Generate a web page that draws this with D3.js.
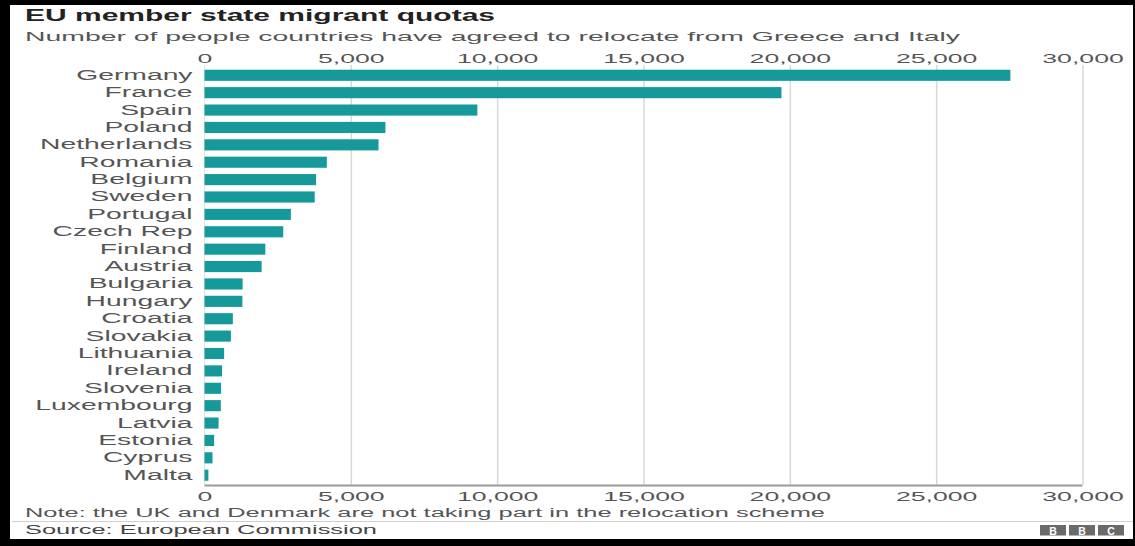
<!DOCTYPE html>
<html>
<head>
<meta charset="utf-8">
<script src="https://cdn.jsdelivr.net/npm/d3@7/dist/d3.min.js"></script>
<style>
  html, body { margin: 0; padding: 0; background: #fff; }
  svg { display: block; }
  text { font-family: "Liberation Sans", Arial, Helvetica, sans-serif; }
</style>
</head>
<body>
<svg id="chart" width="1135" height="546"></svg>
<script>
const countries = ["Germany","France","Spain","Poland","Netherlands","Romania","Belgium","Sweden","Portugal","Czech Rep","Finland","Austria","Bulgaria","Hungary","Croatia","Slovakia","Lithuania","Ireland","Slovenia","Luxembourg","Latvia","Estonia","Cyprus","Malta"];
const quotas = [27536,19714,9323,6182,5947,4180,3812,3766,2951,2691,2078,1953,1302,1294,968,902,671,600,567,557,481,329,274,133];
const tickValues = [0,5000,10000,15000,20000,25000,30000];
const titleText = "EU member state migrant quotas";
const subtitleText = "Number of people countries have agreed to relocate from Greece and Italy";
const noteText = "Note: the UK and Denmark are not taking part in the relocation scheme";
const sourceText = "Source: European Commission";
const logoLetters = ["B","B","C"];

const svg = d3.select("#chart");
const W = 1135, H = 546;

// stretch helper: widen text horizontally by factor k or to a fixed width
function stretch(sel, k, fixed) {
  sel.each(function() {
    const n = this.getComputedTextLength();
    const t = fixed != null ? fixed : n * k;
    d3.select(this).attr("textLength", t).attr("lengthAdjust", "spacingAndGlyphs");
  });
}

// background + black frame
svg.append("rect").attr("width", W).attr("height", H).attr("fill", "#000");
svg.append("rect").attr("x", 10).attr("y", 5).attr("width", 1123).attr("height", 534).attr("fill", "#fff");

const x = d3.scaleLinear().domain([0, 30000]).range([204.5, 1082.5]);
const y = d3.scaleBand().domain(countries).range([64.5, 486]).paddingInner(0.36).paddingOuter(0.3);

// gridlines
const grid = svg.append("g").attr("transform", "translate(0,485)")
  .call(d3.axisBottom(x).tickValues(tickValues.slice(1)).tickSize(-420).tickFormat(""));
grid.select(".domain").remove();
grid.selectAll("line").attr("stroke", "#d8d8d8").attr("stroke-width", 1.5);

// zero line
svg.append("line").attr("x1", x(0)).attr("x2", x(0)).attr("y1", 65).attr("y2", 485)
  .attr("stroke", "#dfe6e6").attr("stroke-width", 1.2);

// bars
svg.append("g").selectAll("rect").data(countries).join("rect")
  .attr("x", x(0))
  .attr("y", d => y(d))
  .attr("width", (d, i) => x(quotas[i]) - x(0))
  .attr("height", y.bandwidth())
  .attr("fill", "#16999a");

// bottom baseline
svg.append("line").attr("x1", x(0)).attr("x2", x(30000)).attr("y1", 485.5).attr("y2", 485.5)
  .attr("stroke", "#9a9a9a").attr("stroke-width", 2);

// top axis labels
const topAx = svg.append("g").attr("transform", "translate(0,63)")
  .call(d3.axisTop(x).tickValues(tickValues).tickSize(0).tickPadding(0).tickFormat(d3.format(",")));
topAx.select(".domain").remove();
topAx.selectAll("text").attr("font-size", 13).attr("fill", "#555").attr("dy", 0)
  .attr("font-family", "Liberation Sans, Arial, sans-serif");
stretch(topAx.selectAll("text"), 2.05);

// bottom axis labels
const botAx = svg.append("g").attr("transform", "translate(0,500.5)")
  .call(d3.axisTop(x).tickValues(tickValues).tickSize(0).tickPadding(0).tickFormat(d3.format(",")));
botAx.select(".domain").remove();
botAx.selectAll("text").attr("font-size", 13).attr("fill", "#555").attr("dy", 0)
  .attr("font-family", "Liberation Sans, Arial, sans-serif");
stretch(botAx.selectAll("text"), 2.05);

// category axis
const yAx = svg.append("g").attr("transform", `translate(${x(0)},0)`)
  .call(d3.axisLeft(y).tickSize(0).tickPadding(12));
yAx.select(".domain").remove();
yAx.selectAll("text").attr("font-size", 14).attr("fill", "#555")
  .attr("font-family", "Liberation Sans, Arial, sans-serif");
stretch(yAx.selectAll("text"), 2.02);

// title & subtitle
const title = svg.append("text").attr("x", 25).attr("y", 21).attr("font-size", 16)
  .attr("font-weight", "bold").attr("fill", "#222").text(titleText);
stretch(title, null, 470);
const sub = svg.append("text").attr("x", 25).attr("y", 41).attr("font-size", 13)
  .attr("fill", "#555").text(subtitleText);
stretch(sub, null, 935);

// note
const note = svg.append("text").attr("x", 25).attr("y", 517).attr("font-size", 12)
  .attr("fill", "#555").text(noteText);
stretch(note, null, 800);

// separator
svg.append("line").attr("x1", 12).attr("x2", 1133).attr("y1", 521.5).attr("y2", 521.5)
  .attr("stroke", "#cfcfcf").attr("stroke-width", 1);

// source
const src = svg.append("text").attr("x", 25).attr("y", 534).attr("font-size", 12)
  .attr("fill", "#444").text(sourceText);
stretch(src, null, 352);

// BBC logo
const logo = svg.append("g").attr("transform", "translate(1040,525)");
logo.selectAll("rect").data(logoLetters).join("rect")
  .attr("x", (d, i) => i * 29).attr("y", 0).attr("width", 26).attr("height", 10.5).attr("fill", "#6a6a6a");
logo.selectAll("text").data(logoLetters).join("text")
  .attr("x", (d, i) => i * 29 + 13).attr("y", 9.5).attr("text-anchor", "middle")
  .attr("font-size", 10.5).attr("font-weight", "bold").attr("fill", "#fff").text(d => d);
</script>
</body>
</html>
